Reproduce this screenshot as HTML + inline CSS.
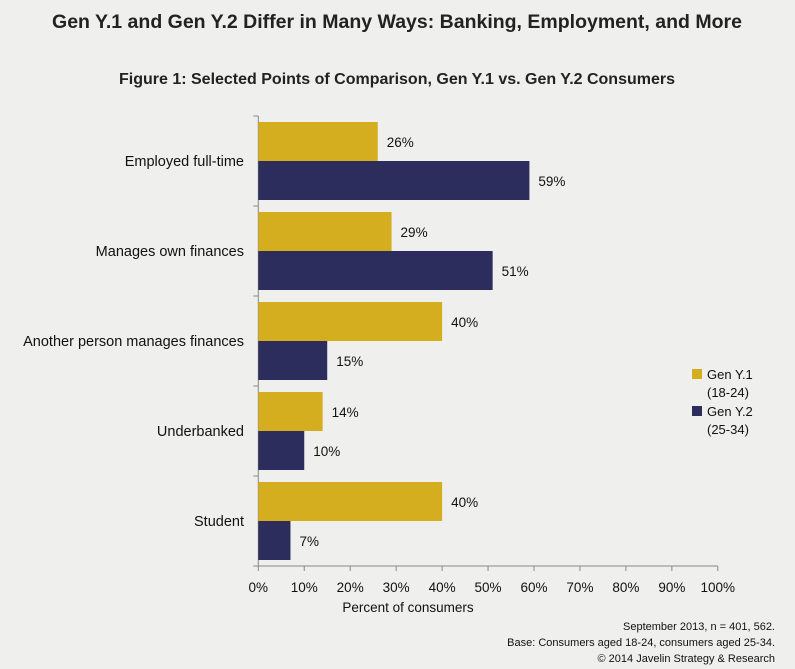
<!DOCTYPE html>
<html><head><meta charset="utf-8">
<style>
body{margin:0;background:#efefed;font-family:"Liberation Sans",sans-serif;}
svg{display:block}
</style></head>
<body>
<svg width="795" height="669" viewBox="0 0 795 669" xmlns="http://www.w3.org/2000/svg">
<rect width="795" height="669" fill="#efefed"/>
<text x="397" y="28" text-anchor="middle" font-size="19.5" font-weight="bold" fill="#222">Gen Y.1 and Gen Y.2 Differ in Many Ways: Banking, Employment, and More</text>
<text x="397" y="84" text-anchor="middle" font-size="16" font-weight="bold" fill="#222">Figure 1: Selected Points of Comparison, Gen Y.1 vs. Gen Y.2 Consumers</text>
<g id="plot"></g>
<text x="408" y="612" text-anchor="middle" font-size="13.5" fill="#111">Percent of consumers</text>
<text x="775" y="630" text-anchor="end" font-size="11" fill="#111">September 2013, n = 401, 562.</text>
<text x="775" y="646" text-anchor="end" font-size="11" fill="#111">Base: Consumers aged 18-24, consumers aged 25-34.</text>
<text x="775" y="662" text-anchor="end" font-size="11" fill="#111">© 2014 Javelin Strategy &amp; Research</text>
<g>
<rect x="692" y="369" width="10" height="10" fill="#d4ae1e"/>
<text x="707" y="379" font-size="13" fill="#111">Gen Y.1</text>
<text x="707" y="397" font-size="13" fill="#111">(18-24)</text>
<rect x="692" y="406" width="10" height="10" fill="#2c2d5c"/>
<text x="707" y="416" font-size="13" fill="#111">Gen Y.2</text>
<text x="707" y="434" font-size="13" fill="#111">(25-34)</text>
</g>
</svg>
<script>
const categories=["Employed full-time","Manages own finances","Another person manages finances","Underbanked","Student"];
const genY1=[26,29,40,14,40];
const genY2=[59,51,15,10,7];
const ticks=[0,10,20,30,40,50,60,70,80,90,100];
const NS="http://www.w3.org/2000/svg";
const g=document.getElementById('plot');
const x0=258.3,pxPer=4.595,top0=116,band=90;
const xs=v=>x0+v*pxPer;
function mk(t,a){const e=document.createElementNS(NS,t);for(const k in a)e.setAttribute(k,a[k]);g.appendChild(e);return e;}
const axisY=mk('line',{x1:x0,y1:top0,x2:x0,y2:top0+band*categories.length,stroke:'#888','stroke-width':1});


for(let i=0;i<=categories.length;i++){
 const t=mk('line',{x1:x0-5,y1:top0+i*band,x2:x0,y2:top0+i*band,stroke:'#888'});
 
 
}
const base=top0+band*categories.length;
const axisX=mk('line',{x1:x0-5,y1:base,x2:xs(100),y2:base,stroke:'#888'});


ticks.forEach(v=>{
 const t=mk('line',{x1:xs(v),y1:base,x2:xs(v),y2:base+5,stroke:'#888'});
 
 
 const l=mk('text',{x:xs(v),y:base+26,'text-anchor':'middle','font-size':13.5,fill:'#111'});
 l.textContent=v+'%';
 
 
});
categories.forEach((c,i)=>{
 const y=top0+i*band;
 const cl=mk('text',{x:244,y:y+band/2+5,'text-anchor':'end','font-size':14.5,fill:'#111'});
 cl.textContent=c;
 
 
 [[genY1[i],'#d4ae1e',6,'bar-gen-y1'],[genY2[i],'#2c2d5c',45,'bar-gen-y2']].forEach(([v,col,off,nm])=>{
  const r=mk('rect',{x:x0,y:y+off,width:xs(v)-x0,height:39,fill:col});
  
  
  const t=mk('text',{x:xs(v)+9,y:y+off+25,'font-size':13.5,fill:'#111'});
  t.textContent=v+'%';
  
  
 });
});
</script>
</body></html>
